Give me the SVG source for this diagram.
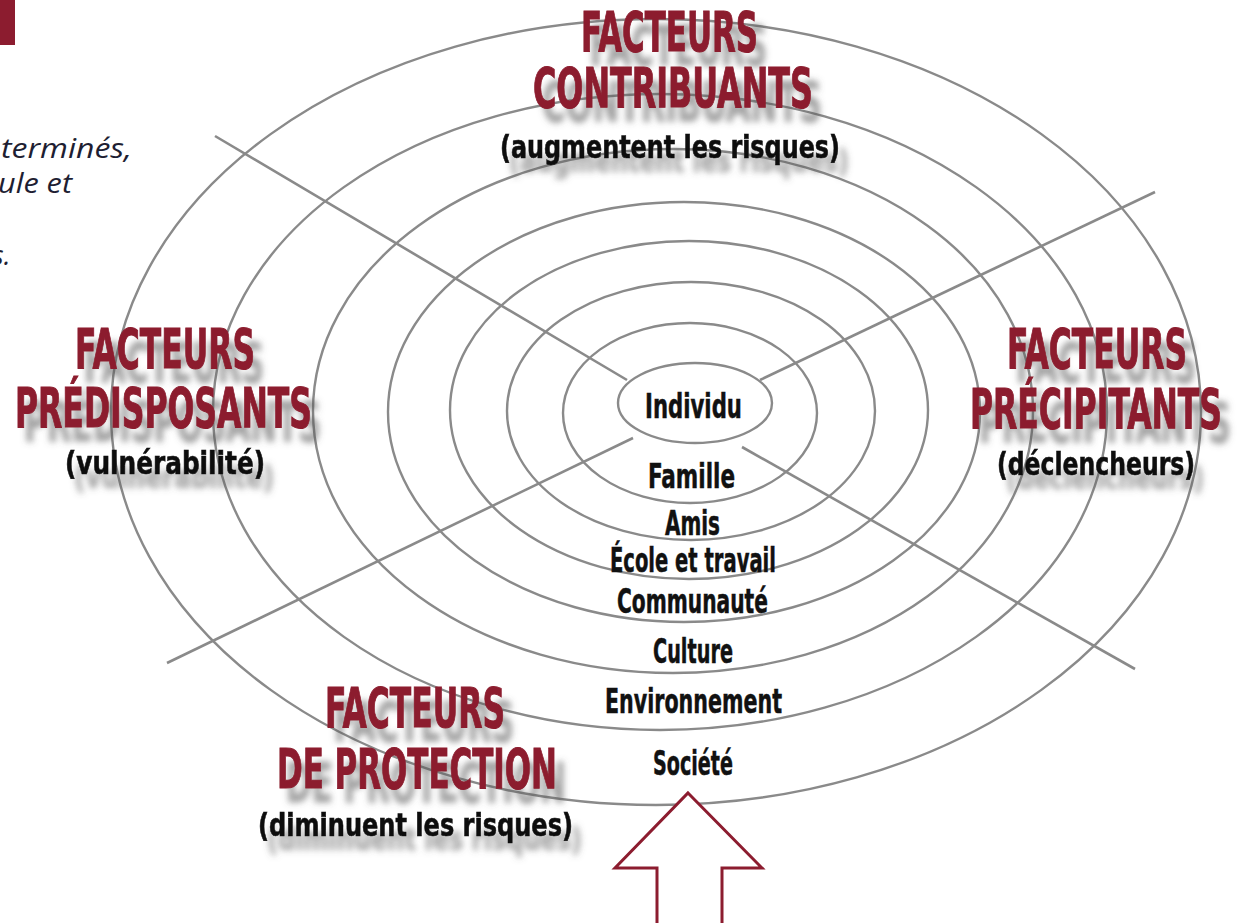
<svg xmlns="http://www.w3.org/2000/svg" width="1237" height="923" viewBox="0 0 1237 923">
<defs>
<style>
.ring{fill:none;stroke:#8a8a8a;stroke-width:2.4}
.ray{stroke:#8a8a8a;stroke-width:2.6;stroke-linecap:butt}
.t{font-family:"Liberation Sans Narrow","DejaVu Sans Condensed","DejaVu Sans",sans-serif;font-weight:bold}
.red{fill:#8c1c2f;stroke:#8c1c2f;stroke-width:1;font-size:56px}
.sub{fill:#111;stroke:#111;stroke-width:0.6;font-size:32px}
.lab{fill:#111;stroke:#111;stroke-width:0.5;font-size:34px}
.it{font-family:"Open Sans","Noto Sans",sans-serif;font-style:italic;font-size:27px;fill:#1e1e32}
</style>
<filter id="sh" x="-10%" y="-30%" width="130%" height="180%">
<feDropShadow dx="9" dy="14" stdDeviation="3.2" flood-color="#555" flood-opacity="0.55"/>
</filter>
</defs>
<rect width="1237" height="923" fill="#fff"/>
<rect x="0" y="0" width="15" height="45" fill="#8c1c2f"/>
<g id="intro-text">
<text class="it" x="1" y="158" textLength="131" lengthAdjust="spacingAndGlyphs">terminés,</text>
<text class="it" x="-2" y="193" textLength="74" lengthAdjust="spacingAndGlyphs">ule et</text>
<text class="it" x="-8" y="265">s.</text>
</g>
<g id="rings">
<ellipse id="ring-societe" class="ring" cx="656" cy="412" rx="545" ry="393"/>
<ellipse id="ring-environnement" class="ring" cx="660" cy="412" rx="447" ry="318"/>
<ellipse id="ring-culture" class="ring" cx="673" cy="411" rx="360" ry="262"/>
<ellipse id="ring-communaute" class="ring" cx="684" cy="412" rx="296" ry="210"/>
<ellipse id="ring-ecole" class="ring" cx="689" cy="410" rx="239" ry="169"/>
<ellipse id="ring-amis" class="ring" cx="691" cy="411" rx="184" ry="129"/>
<ellipse id="ring-famille" class="ring" cx="690" cy="413" rx="127" ry="90"/>
<ellipse id="ring-individu" class="ring" cx="695" cy="403" rx="77" ry="40"/>
</g>
<g id="connectors">
<line class="ray" x1="215" y1="136" x2="627" y2="380"/>
<line class="ray" x1="1155" y1="192" x2="760" y2="380"/>
<line class="ray" x1="167" y1="663" x2="633" y2="438"/>
<line class="ray" x1="742" y1="447" x2="1135" y2="669"/>
</g>
<g id="node-contribuants" filter="url(#sh)">
<text class="t red" x="581" y="51" textLength="177" lengthAdjust="spacingAndGlyphs">FACTEURS</text>
<text class="t red" x="533" y="107" textLength="280" lengthAdjust="spacingAndGlyphs">CONTRIBUANTS</text>
<text class="t sub" x="500" y="158" textLength="340" lengthAdjust="spacingAndGlyphs">(augmentent les risques)</text>
</g>
<g id="node-predisposants" filter="url(#sh)">
<text class="t red" x="75" y="368" textLength="180" lengthAdjust="spacingAndGlyphs">FACTEURS</text>
<text class="t red" x="15" y="427" textLength="297" lengthAdjust="spacingAndGlyphs">PRÉDISPOSANTS</text>
<text class="t sub" x="65" y="474" textLength="200" lengthAdjust="spacingAndGlyphs">(vulnérabilité)</text>
</g>
<g id="node-precipitants" filter="url(#sh)">
<text class="t red" x="1007" y="368" textLength="180" lengthAdjust="spacingAndGlyphs">FACTEURS</text>
<text class="t red" x="970" y="428" textLength="252" lengthAdjust="spacingAndGlyphs">PRÉCIPITANTS</text>
<text class="t sub" x="997" y="475" textLength="198" lengthAdjust="spacingAndGlyphs">(déclencheurs)</text>
</g>
<g id="node-protection" filter="url(#sh)">
<text class="t red" x="325" y="727" textLength="180" lengthAdjust="spacingAndGlyphs">FACTEURS</text>
<text class="t red" x="277" y="788" textLength="280" lengthAdjust="spacingAndGlyphs">DE PROTECTION</text>
<text class="t sub" x="258" y="836" textLength="315" lengthAdjust="spacingAndGlyphs">(diminuent les risques)</text>
</g>
<g id="labels">
<text id="node-individu" class="t lab" x="645" y="418" textLength="97" lengthAdjust="spacingAndGlyphs">Individu</text>
<text id="node-famille" class="t lab" x="648" y="488" textLength="87" lengthAdjust="spacingAndGlyphs">Famille</text>
<text id="node-amis" class="t lab" x="665" y="535" textLength="55" lengthAdjust="spacingAndGlyphs">Amis</text>
<text id="node-ecole" class="t lab" x="610" y="572" textLength="166" lengthAdjust="spacingAndGlyphs">École et travail</text>
<text id="node-communaute" class="t lab" x="617" y="613" textLength="151" lengthAdjust="spacingAndGlyphs">Communauté</text>
<text id="node-culture" class="t lab" x="653" y="663" textLength="80" lengthAdjust="spacingAndGlyphs">Culture</text>
<text id="node-environnement" class="t lab" x="605" y="713" textLength="177" lengthAdjust="spacingAndGlyphs">Environnement</text>
<text id="node-societe" class="t lab" x="653" y="775" textLength="80" lengthAdjust="spacingAndGlyphs">Société</text>
</g>
<g id="arrow">
<polygon points="688,793 762,868 722,868 722,930 657,930 657,868 615,868" fill="#fff" stroke="#8c1c2f" stroke-width="3" stroke-linejoin="miter"/>
</g>
</svg>
